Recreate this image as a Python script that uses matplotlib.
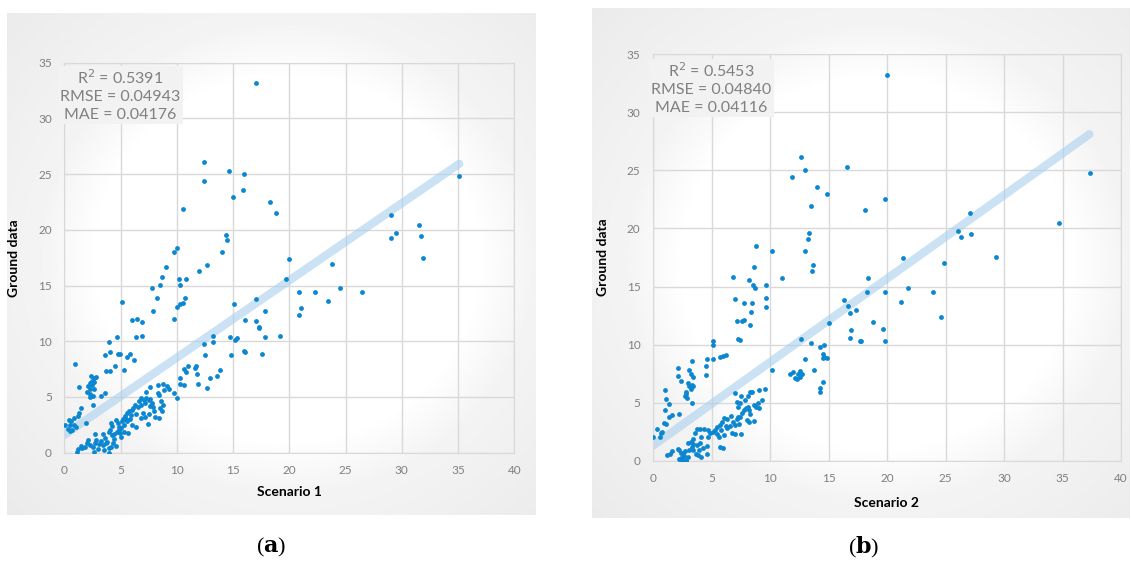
import numpy as np
import matplotlib.pyplot as plt

plt.rcParams['font.family'] = ['Lato', 'DejaVu Sans']

# ---- data ----
# scenario 1 (x) vs ground data (y)
pts_a = [
    (17.0, 33.2), (12.4, 26.1), (12.45, 24.4), (14.6, 25.25), (16.0, 25.0), (15.85, 23.55),
    (15.0, 22.95), (10.55, 21.9), (18.3, 22.5), (18.8, 21.55), (35.1, 24.8), (29.0, 21.3),
    (29.0, 19.25), (29.5, 19.7), (31.5, 20.4), (31.75, 19.45), (31.9, 17.5), (14.35, 19.55),
    (14.45, 19.1), (14.0, 18.05), (12.65, 16.8), (12.0, 16.3), (20.0, 17.4), (23.8, 16.9),
    (10.0, 18.4), (9.75, 18.05), (9.05, 16.65), (8.65, 15.75), (10.2, 15.6), (10.8, 15.55),
    (19.7, 15.6), (8.5, 15.05), (7.8, 14.8), (10.3, 15.05),
    (20.9, 14.45), (22.3, 14.45), (24.55, 14.8), (26.5, 14.45), (23.45, 13.65), (21.05, 12.95),
    (20.85, 12.35), (17.0, 13.75), (15.05, 13.3), (17.8, 12.7), (16.1, 11.95), (17.0, 11.85),
    (17.3, 11.3), (17.35, 11.2), (17.8, 10.35), (19.15, 10.5), (14.75, 10.35), (15.2, 10.1),
    (15.35, 10.3), (13.25, 10.5), (13.25, 9.9), (12.4, 9.75), (12.55, 8.75), (14.8, 8.75),
    (15.95, 9.1), (16.05, 9.0), (17.6, 8.85), (11.0, 7.75), (11.65, 7.6), (11.75, 7.8),
    (11.8, 7.05), (13.85, 7.45), (13.6, 6.9), (12.95, 6.7), (11.9, 6.2), (12.65, 5.85),
    (10.6, 7.55), (10.8, 7.25), (10.3, 6.7), (10.6, 6.05), (10.3, 6.2), (10.05, 13.1),
    (10.55, 13.45), (10.7, 13.9), (10.3, 13.35),
    (7.85, 12.75), (8.25, 13.85), (5.15, 13.5), (6.0, 11.95), (6.45, 12.0), (6.95, 11.7),
    (9.75, 12.0), (6.35, 10.35), (6.9, 10.45), (4.7, 10.35), (4.0, 9.9), (3.65, 8.8),
    (4.1, 9.05), (4.8, 8.85), (4.95, 8.9), (5.8, 8.9), (5.6, 8.55), (6.2, 8.3), (4.5, 7.75),
    (3.75, 7.3), (4.05, 7.35), (5.35, 7.4), (0.95, 8.0), (1.35, 5.9), (3.65, 5.4), (3.3, 5.05),
    (2.55, 4.3), (2.4, 6.9), (2.65, 6.7), (2.45, 6.45), (2.6, 6.3), (2.5, 6.05), (2.25, 6.25),
    (2.1, 5.95), (2.3, 5.7), (2.05, 5.45), (2.25, 5.3), (2.55, 5.05), (2.3, 5.0), (2.6, 5.75),
    (2.85, 6.8), (1.95, 2.7),
    (0.1, 2.5), (0.5, 2.5), (0.3, 2.15), (0.5, 1.95), (0.65, 2.0), (0.85, 2.45), (0.9, 3.1),
    (1.25, 3.25), (1.3, 3.6), (1.5, 4.0), (1.0, 2.35), (0.6, 2.8), (0.4, 2.95),
    (1.1, 0.1), (1.25, 0.3), (1.6, 0.4), (1.45, 0.6), (1.8, 0.55), (2.0, 0.85), (2.15, 1.1),
    (2.3, 0.7), (2.55, 0.55), (2.7, 0.85), (2.6, 0.05), (2.85, 1.15), (2.75, 1.7), (3.1, 0.75),
    (3.3, 1.05), (3.4, 0.65), (3.5, 0.25), (3.7, 0.85), (3.8, 1.0), (4.0, 0.4), (3.45, 1.7),
    (4.0, 1.9), (4.0, 0.0), (4.15, 0.55), (4.35, 0.85), (4.45, 1.25), (4.4, 1.7), (4.25, 1.55),
    (4.1, 2.05), (4.25, 2.4), (4.15, 2.65), (4.6, 2.9), (4.8, 2.65), (4.9, 2.35), (4.95, 1.75),
    (5.05, 1.45), (4.85, 2.05), (4.7, 1.9), (5.1, 2.8), (5.2, 3.05), (5.3, 2.5), (5.4, 3.3),
    (5.6, 3.55), (5.55, 2.8), (5.75, 3.7), (5.8, 3.05), (5.65, 1.75), (5.95, 3.4), (6.05, 3.85),
    (6.35, 3.5), (6.4, 2.3), (6.55, 4.1), (6.25, 4.3), (6.6, 4.65), (6.8, 4.3), (6.85, 4.9),
    (7.05, 4.75), (7.15, 4.5), (7.25, 4.95), (7.3, 5.45), (7.5, 4.7), (7.6, 4.85), (7.4, 2.6),
    (7.55, 3.45), (7.65, 4.15), (7.8, 4.45), (7.95, 3.75), (8.05, 3.2), (7.9, 4.1), (7.6, 5.9),
    (8.3, 5.4), (8.35, 6.1), (8.45, 5.2), (8.6, 4.6), (8.75, 4.3), (8.55, 4.05), (8.65, 3.7),
    (8.45, 3.15), (7.2, 3.2), (8.8, 6.2), (9.15, 6.0), (9.3, 5.7), (9.75, 5.4), (10.0, 4.9),
    (8.9, 5.65), (3.0, 0.3), (3.6, 1.3), (4.6, 0.6), (5.0, 2.2), (5.3, 1.9), (6.0, 2.5),
    (6.8, 3.1), (7.0, 3.6), (6.1, 4.0), (5.5, 3.0),
]

# scenario 2 (x) vs ground data (y)
pts_b = [
    (20.0, 33.25), (12.65, 26.15), (13.0, 25.0), (11.85, 24.4), (16.55, 25.3), (14.05, 23.6),
    (14.9, 23.0), (13.5, 21.95), (18.1, 21.6), (19.8, 22.55), (37.35, 24.8), (34.7, 20.45),
    (27.1, 21.3), (26.05, 19.75), (26.3, 19.3), (27.2, 19.5), (29.35, 17.55), (24.9, 17.0),
    (21.35, 17.5), (13.35, 19.6), (13.25, 19.1), (13.0, 18.1), (13.7, 16.85), (13.6, 16.35),
    (10.2, 18.1), (8.8, 18.45), (8.6, 16.7), (6.8, 15.85), (8.2, 15.6), (11.0, 15.7), (18.35, 15.7),
    (8.55, 15.15), (8.7, 14.9), (9.7, 15.15), (7.05, 13.9), (7.75, 13.55), (8.45, 13.55),
    (8.4, 12.8), (9.7, 14.0), (9.7, 13.2), (7.15, 12.05), (7.6, 12.0), (7.75, 12.1), (8.3, 11.7),
    (7.3, 10.5), (7.45, 10.4), (16.3, 13.8), (16.65, 13.35), (17.35, 13.0), (16.8, 12.7),
    (18.3, 14.5), (19.8, 14.5), (21.8, 14.85), (23.9, 14.5), (21.2, 13.7), (24.6, 12.4),
    (18.8, 11.95), (16.9, 11.25), (19.7, 11.35), (16.8, 10.55), (17.65, 10.35), (17.75, 10.35),
    (19.8, 10.35), (15.0, 11.85), (12.65, 10.5), (13.5, 10.1), (14.25, 9.8), (14.6, 9.95),
    (14.5, 9.15), (14.65, 8.9), (14.85, 8.85), (14.55, 8.85), (13.0, 8.8), (13.75, 7.85),
    (10.2, 7.85), (11.7, 7.5), (12.0, 7.65), (12.4, 7.5), (12.55, 7.75), (12.55, 7.2),
    (12.3, 7.0), (12.1, 7.1), (12.75, 7.5), (14.55, 6.8), (14.3, 6.25), (14.3, 5.9),
    (9.1, 6.1), (9.55, 6.2), (9.35, 5.2), (9.1, 4.55),
    (2.1, 8.0), (2.1, 7.3), (2.4, 6.85), (3.05, 7.8), (3.25, 7.5), (3.45, 7.2), (3.3, 6.55),
    (3.25, 6.2), (3.1, 6.4), (2.95, 6.7), (2.85, 5.95), (2.8, 5.75), (2.7, 5.55), (2.9, 5.4),
    (3.45, 6.45), (3.35, 4.95), (3.35, 8.55), (0.0, 2.0), (0.3, 2.75), (0.65, 2.35), (0.6, 2.0),
    (0.9, 3.25), (1.15, 3.15), (0.75, 2.5), (1.35, 3.8), (1.6, 3.9), (1.05, 4.4), (1.1, 5.3),
    (1.35, 4.9), (1.0, 6.05), (2.25, 4.05),
    (4.6, 8.8), (4.55, 8.15), (4.55, 7.35), (5.15, 10.35), (5.15, 9.95), (5.15, 8.75),
    (5.75, 8.95), (6.0, 9.0), (6.25, 9.1),
    (1.2, 0.5), (1.65, 0.8), (1.45, 0.6), (2.25, 0.9), (2.4, 0.65), (2.5, 0.3), (2.55, 0.05),
    (2.8, 0.0), (2.65, 0.4), (2.25, 0.15), (2.55, 0.7), (2.4, 0.0), (2.85, 0.1), (3.0, 0.3),
    (2.7, 0.85), (3.1, 0.9), (3.3, 1.2), (3.45, 1.45), (3.25, 1.65), (3.0, 1.55), (3.45, 0.9),
    (3.65, 0.6), (3.9, 0.9), (3.8, 1.35), (4.05, 1.5), (4.3, 1.1), (4.6, 1.25), (3.85, 0.45),
    (4.1, 0.35), (4.65, 0.6), (4.7, 2.0), (4.9, 2.35), (4.7, 2.65), (4.4, 2.7), (5.1, 2.5),
    (5.3, 2.65), (5.45, 2.3), (5.6, 2.05), (5.7, 1.2), (5.95, 1.1), (5.8, 2.65), (6.2, 3.0),
    (6.35, 2.8), (6.1, 2.25), (6.6, 2.95), (6.85, 3.3), (7.05, 3.05), (7.2, 3.55), (7.4, 3.8),
    (7.35, 3.15), (7.6, 4.1), (7.75, 4.4), (7.95, 4.5), (8.15, 4.6), (8.3, 4.05), (8.2, 4.4),
    (8.05, 3.5), (7.0, 2.3), (7.5, 2.3), (7.3, 3.75), (7.85, 5.25), (8.1, 5.6), (8.25, 5.9),
    (8.45, 5.9), (7.5, 5.55), (7.45, 4.95), (7.3, 4.65), (7.15, 5.05), (7.05, 5.8), (6.35, 3.55),
    (6.65, 3.85), (6.05, 3.7), (5.9, 3.35), (5.75, 3.1), (5.5, 2.9), (8.2, 3.3), (8.6, 3.45),
    (8.8, 4.65), (8.95, 4.95), (8.6, 4.8), (6.75, 2.35), (4.05, 2.75), (3.8, 2.7), (3.6, 2.35),
    (3.45, 1.85), (4.1, 2.05), (2.1, 1.05),
]

# fitted lines: intercept, slope, x end
fit_a = (1.6, 0.693, 35.1)
fit_b = (1.3, 0.719, 37.3)

stats_a = ["R$^2$ = 0.5391", "RMSE = 0.04943", "MAE = 0.04176"]
stats_b = ["R$^2$ = 0.5453", "RMSE = 0.04840", "MAE = 0.04116"]

xlabels = ["Scenario 1", "Scenario 2"]
xticks = [0, 5, 10, 15, 20, 25, 30, 35, 40]
yticks = [0, 5, 10, 15, 20, 25, 30, 35]

W, H = 1131, 561
fig = plt.figure(figsize=(W / 100, H / 100), dpi=100)


def px_rect(x0, y0, x1, y1):
    # pixel box (top-left origin) -> figure fraction rect
    return [x0 / W, 1 - y1 / H, (x1 - x0) / W, (y1 - y0) / H]


def background(rect, cx, cy):
    bg = fig.add_axes(rect, zorder=0)
    yy, xx = np.mgrid[0:1:400j, 0:1:400j]
    r = np.hypot(xx - cx, yy - cy)
    v = 1 - 0.05 * np.clip((r - 0.36) / 0.12, 0, 1) - 0.04 * np.clip((r - 0.5) / 0.3, 0, 1)
    bg.imshow(v, cmap="gray", vmin=0, vmax=1, extent=[0, 1, 0, 1], aspect="auto",
              origin="upper", interpolation="bilinear")
    bg.axis("off")


def panel(rect, pts, fit, stats, xlabel, xpad, labelpad):
    ax = fig.add_axes(rect, zorder=2)
    ax.set_facecolor("none")
    x = np.array([p[0] for p in pts])
    y = np.array([p[1] for p in pts])
    b0, b1, xend = fit
    xl = np.array([0, xend])
    ax.plot(xl, b0 + b1 * xl, color="#a9d0ee", alpha=0.6, lw=6, solid_capstyle="round", zorder=2)
    ax.scatter(x, y, s=12, color="#0b86d1", lw=0, zorder=3)
    ax.set_xlim(0, 40)
    ax.set_ylim(0, 35)
    ax.set_xticks(xticks)
    ax.set_yticks(yticks)
    ax.grid(True, color="#d9d9d9", lw=1)
    ax.set_axisbelow(True)
    for s in ax.spines.values():
        s.set_color("#d9d9d9")
    ax.tick_params(length=0, labelcolor="#7f7f7f", labelsize=8.5)
    ax.tick_params(axis="y", pad=9)
    ax.tick_params(axis="x", pad=xpad)
    ax.set_xlabel(xlabel, fontsize=10, fontweight="bold", labelpad=labelpad)
    ax.set_ylabel("Ground data", fontsize=10, fontweight="bold", labelpad=13)
    ax.text(5.0, 32.1, "\n".join(stats), ha="center", va="center", fontsize=11.5,
            color="#808080", linespacing=1.3,
            bbox=dict(facecolor="#f2f2f2", edgecolor="none", pad=1.5), zorder=4)
    return ax


background(px_rect(7, 12.7, 535.7, 515), 0.53, 0.49)
background(px_rect(591.5, 8.3, 1129, 518.3), 0.53, 0.50)

ax_a = panel(px_rect(64.3, 62.7, 514.3, 452.7), pts_a, fit_a, stats_a, xlabels[0], 9, 7)
ax_b = panel(px_rect(653.0, 54.3, 1121.0, 460.7), pts_b, fit_b, stats_b, xlabels[1], 9, 9)

serif = ["Liberation Serif", "DejaVu Serif"]
for cx, tag in [(271, "a"), (864, "b")]:
    fig.text(cx / W, 1 - 547 / H, "(" + r"$\mathbf{" + tag + "}$" + ")", ha="center", va="center",
             fontsize=16, family=serif, math_fontfamily="dejavuserif")

fig.savefig("out.png", dpi=100)
